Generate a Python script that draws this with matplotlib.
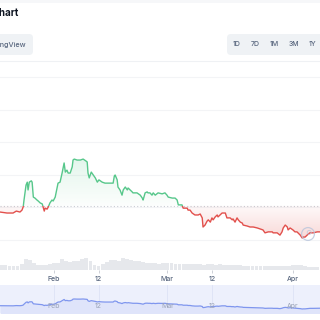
import numpy as np
import matplotlib
matplotlib.use("Agg")
import matplotlib.pyplot as plt
from matplotlib.patches import Rectangle, FancyBboxPatch, Circle
from matplotlib.path import Path
import matplotlib.transforms as mtransforms

plt.rcParams['font.family'] = ['Inter', 'DejaVu Sans']

# ---------------- data ----------------
days = [17.7, 19.4, 20.9, 21.7, 22.6, 23.1, 23.4, 23.6, 24.1, 24.4, 24.6, 24.9, 25.4, 25.6,
        25.9, 26.3, 26.8, 27.1, 27.6, 28.1, 28.3, 28.6, 28.8, 29.3, 29.6, 30.0, 30.5, 30.8,
        31.3, 31.8, 32.0, 32.5, 33.0, 33.3, 33.5, 33.8, 34.2, 34.5, 35.0, 35.5, 35.7, 36.0,
        36.7, 37.5, 38.2, 38.9, 39.2, 39.4, 39.7, 40.2, 40.7, 41.2, 41.7, 42.1, 42.9, 43.6,
        44.9, 45.6, 45.9, 46.1, 46.6, 46.8, 47.3, 47.8, 48.1, 48.6, 49.1, 49.3, 49.8, 50.3,
        50.5, 51.5, 52.3, 52.8, 53.0, 53.5, 54.0, 54.2, 54.7, 55.2, 55.5, 56.0, 56.7, 57.7,
        58.4, 58.9, 59.2, 60.2, 60.9, 61.4, 61.7, 62.1, 62.6, 62.9, 63.9, 64.1, 64.6, 65.1,
        65.8, 66.6, 67.1, 67.6, 67.8, 68.3, 68.8, 69.1, 69.6, 70.0, 70.3, 70.8, 71.3, 71.5,
        72.0, 72.5, 72.8, 73.3, 73.7, 74.5, 75.0, 75.2, 75.7, 76.2, 76.5, 77.0, 77.5, 77.7,
        78.7, 79.4, 80.2, 81.2, 81.9, 82.6, 83.1, 83.9, 84.9, 85.1, 86.1, 86.8, 87.3, 87.6,
        88.1, 88.6, 88.8, 89.3, 90.0, 90.5, 91.0, 91.8, 92.3, 92.5, 93.0, 93.5, 94.2, 95.0,
        96.0, 96.7]
prices = [1.086, 1.083, 1.083, 1.089, 1.086, 1.092, 1.102, 1.123, 1.169, 1.178, 1.154, 1.178,
          1.182, 1.178, 1.132, 1.129, 1.123, 1.120, 1.114, 1.111, 1.102, 1.089, 1.098, 1.095,
          1.102, 1.114, 1.123, 1.120, 1.132, 1.163, 1.175, 1.178, 1.206, 1.225, 1.237, 1.209,
          1.215, 1.206, 1.206, 1.225, 1.246, 1.249, 1.246, 1.246, 1.249, 1.243, 1.240, 1.206,
          1.191, 1.209, 1.200, 1.191, 1.178, 1.185, 1.178, 1.175, 1.175, 1.175, 1.197, 1.200,
          1.185, 1.163, 1.154, 1.138, 1.154, 1.163, 1.154, 1.160, 1.154, 1.148, 1.145, 1.145,
          1.138, 1.129, 1.123, 1.145, 1.148, 1.145, 1.145, 1.138, 1.145, 1.138, 1.145, 1.142,
          1.145, 1.138, 1.132, 1.129, 1.129, 1.123, 1.108, 1.108, 1.108, 1.098, 1.098, 1.092,
          1.092, 1.083, 1.077, 1.077, 1.080, 1.068, 1.040, 1.046, 1.058, 1.062, 1.055, 1.068,
          1.062, 1.071, 1.077, 1.071, 1.077, 1.083, 1.083, 1.083, 1.068, 1.068, 1.062, 1.065,
          1.055, 1.068, 1.062, 1.055, 1.052, 1.046, 1.043, 1.040, 1.040, 1.037, 1.034, 1.031,
          1.022, 1.025, 1.025, 1.022, 1.022, 1.015, 1.025, 1.037, 1.046, 1.040, 1.031, 1.037,
          1.031, 1.025, 1.025, 1.015, 1.006, 1.009, 1.009, 1.015, 1.022, 1.022, 1.025, 1.025]
start_price = 1.105

vol_days = list(range(18, 97))
volumes = [5, 5, 4, 4, 4, 6, 11, 10, 7, 5, 5, 5, 6, 7, 7, 11, 9, 8, 9, 9, 11, 12, 9, 5, 4,
           6, 8, 10, 10, 9, 12, 11, 10, 9, 9, 8, 7, 7, 7, 6, 7, 7, 7, 6, 6, 6, 6, 6, 6, 6,
           5, 6, 6, 5, 6, 5, 5, 5, 5, 5, 4, 4, 4, 4, 4, 4, 4, 4, 4, 4, 4, 4, 5, 5, 5, 4,
           3, 3, 3]

tick_days = [31, 42, 59, 70, 90]
tick_labels = ['Feb', '12', 'Mar', '12', 'Apr']
grid_levels = [1.0, 1.1, 1.2, 1.3, 1.4, 1.5]
range_buttons = ['1D', '7D', '1M', '3M', '1Y']

# ---------------- styles ----------------
GREEN = '#57c78b'
RED = '#e2504c'
TXT = '#58667e'
XMIN, XMAX = 17.67, 96.68

W = H = 320
fig = plt.figure(figsize=(3.2, 3.2), dpi=100)
fig.patch.set_facecolor('white')


def px_axes(x0, y0, x1, y1, **kw):
    return fig.add_axes([x0 / W, 1 - y1 / H, (x1 - x0) / W, (y1 - y0) / H], **kw)


# overlay (pixel coords) for header
ov = px_axes(0, 0, 320, 320)
ov.set_xlim(0, W)
ov.set_ylim(H, 0)
ov.axis('off')
ov.add_patch(Rectangle((0, 0), 320, 3, color='#f6f7f9', lw=0))
ov.text(18.5, 13.5, 'Price Chart', ha='right', va='center', fontsize=7,
        fontweight='bold', color='#0d1421')
ov.add_patch(FancyBboxPatch((-10, 34), 43, 21, boxstyle='round,pad=0,rounding_size=4',
                            fc='#eff2f5', ec='none'))
ov.text(26, 44.5, 'TradingView', ha='right', va='center', fontsize=5.2, color=TXT,
        fontweight='medium')
ov.add_patch(FancyBboxPatch((227, 34), 110, 21, boxstyle='round,pad=0,rounding_size=4',
                            fc='#eff2f5', ec='none'))
for bx, lab in zip([237, 255.5, 274.5, 294, 313], range_buttons):
    ov.text(bx, 44.5, lab, ha='center', va='center', fontsize=5, color=TXT,
            fontweight='medium')
ov.plot([0, 320], [61, 61], color='#eff1f4', lw=0.8)

# ---------------- main price axes ----------------
ax = px_axes(0, 62, 320, 245)
ax.set_facecolor('none')
d = np.array(days)
p = np.array(prices)
ylo, yhi = 1 - 5 / 325, 1 + 178 / 325

for g in grid_levels:
    ax.axhline(g, color='#f3f4f6', lw=0.8, zorder=0)
ax.axhline(start_price, color='#c9ccd3', lw=0.8, ls=(0, (1, 2)), zorder=1)


def gradient_fill(mask, color, y0, y1, a0, a1):
    coll = ax.fill_between(d, p, start_price, where=mask, interpolate=True,
                           facecolor='none', edgecolor='none')
    paths = coll.get_paths()
    if not paths:
        return
    comp = Path.make_compound_path(*paths)
    rgb = matplotlib.colors.to_rgb(color)
    n = 100
    arr = np.zeros((n, 1, 4))
    arr[:, 0, :3] = rgb
    arr[:, 0, 3] = np.linspace(a0, a1, n)
    im = ax.imshow(arr, extent=[XMIN, XMAX, y0, y1], aspect='auto', origin='lower',
                   zorder=1, interpolation='bilinear')
    im.set_clip_path(comp, transform=ax.transData)


gradient_fill(p >= start_price, GREEN, start_price, max(prices), 0.02, 0.16)
gradient_fill(p <= start_price, RED, min(prices), start_price, 0.22, 0.03)

lg, = ax.plot(d, p, color=GREEN, lw=1.0, zorder=3, solid_joinstyle='round')
lr, = ax.plot(d, p, color=RED, lw=1.0, zorder=3, solid_joinstyle='round')
up = Rectangle((XMIN - 5, start_price), XMAX - XMIN + 10, 5, transform=ax.transData)
dn = Rectangle((XMIN - 5, start_price - 5), XMAX - XMIN + 10, 5, transform=ax.transData)
lg.set_clip_path(up)
lr.set_clip_path(dn)

ax.set_xlim(XMIN, XMAX)
ax.set_ylim(ylo, yhi)
ax.axis('off')

# watermark
wm = px_axes(300, 226, 316, 242)
wm.set_xlim(-1, 1); wm.set_ylim(-1, 1); wm.axis('off')
wm.add_patch(Circle((0, 0), 0.8, fc='none', ec='#b9c6dc', lw=0.9, alpha=0.8))
wm.add_patch(Circle((0.15, 0.2), 0.25, fc='none', ec='#b9c6dc', lw=0.6, alpha=0.8))

# ---------------- volume axes ----------------
vax = px_axes(0, 250, 320, 270)
vax.bar(vol_days, volumes, width=0.95, color='#e6e8ec', edgecolor='none')
vax.set_xlim(XMIN, XMAX)
vax.set_ylim(0, 20)
for s in vax.spines.values():
    s.set_visible(False)
vax.set_yticks([])
vax.set_xticks(tick_days)
vax.set_xticklabels(tick_labels, fontsize=5, color=TXT, fontweight='medium')
vax.tick_params(axis='x', length=2.5, width=0.6, color='#c5c9d1', pad=1.5)
vax.set_facecolor('none')

# ---------------- navigator ----------------
nav = px_axes(0, 285, 320, 313)
nav.set_facecolor('#edf0fc')
nav.fill_between(d, p, 0.8, color='#dfe4fa', lw=0)
nav.plot(d, p, color='#7f96ee', lw=0.9)
for td, tl in zip(tick_days, tick_labels):
    nav.axvline(td, color='#dde2f6', lw=0.6, zorder=0)
    nav.text(td, 0.25, tl, transform=mtransforms.blended_transform_factory(nav.transData, nav.transAxes),
             ha='center', va='center', fontsize=5, color='#9aa3b7')
nav.set_xlim(XMIN, XMAX)
nav.set_ylim(0.909, 1.589)
nav.set_xticks([]); nav.set_yticks([])
for s in nav.spines.values():
    s.set_visible(False)

fig.savefig('out.png', dpi=100, facecolor='white')
